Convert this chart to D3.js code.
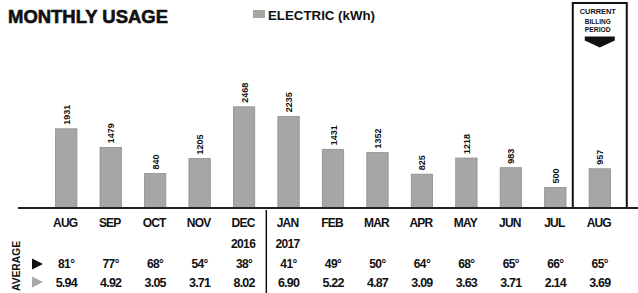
<!DOCTYPE html>
<html>
<head>
<meta charset="utf-8">
<script src="https://cdn.jsdelivr.net/npm/d3@7"></script>
<style>
  html, body { margin: 0; padding: 0; background: #fff; }
  svg { display: block; }
  text { font-family: "Liberation Sans", Arial, sans-serif; font-weight: bold; fill: #111; }
</style>
</head>
<body>
<script>
const months = ["AUG","SEP","OCT","NOV","DEC","JAN","FEB","MAR","APR","MAY","JUN","JUL","AUG"];
const years = ["","","","","2016","2017","","","","","","",""];
const electricKwh = [1931,1479,840,1205,2468,2235,1431,1352,825,1218,983,500,957];
const avgTemp = [81,77,68,54,38,41,49,50,64,68,65,66,65];
const avgDaily = ["5.94","4.92","3.05","3.71","8.02","6.90","5.22","4.87","3.09","3.63","3.71","2.14","3.69"];
const currentIndex = 12;
const yearBreakIndex = 5;

const W = 638, H = 293;
const baseY = 208;
const svg = d3.select("body").append("svg").attr("width", W).attr("height", H);

const idx = months.map((m, i) => i);
const x = d3.scaleBand().domain(idx).range([44, 622]).paddingInner(0.52).paddingOuter(0.26);
const y = d3.scaleLinear().domain([0, 2500]).range([baseY, 105.5]);
const cx = i => x(i) + x.bandwidth() / 2;

// title
svg.append("text").attr("x", 8).attr("y", 23)
  .attr("font-size", 18).attr("textLength", 160).attr("lengthAdjust", "spacingAndGlyphs")
  .style("font-weight", "900").style("stroke", "#111").style("stroke-width", 0.6)
  .text("MONTHLY USAGE");

// legend
svg.append("rect").attr("x", 253).attr("y", 10).attr("width", 12).attr("height", 8)
  .attr("fill", "#a6a6a6");
svg.append("text").attr("x", 268).attr("y", 19.5).attr("font-size", 12)
  .attr("textLength", 107).attr("lengthAdjust", "spacingAndGlyphs").text("ELECTRIC (kWh)");

// current billing period box
const bx0 = cx(currentIndex) - 27, bx1 = cx(currentIndex) + 27;
svg.append("rect").attr("x", bx0).attr("y", 3).attr("width", bx1 - bx0).attr("height", baseY - 3)
  .attr("fill", "none").attr("stroke", "#111").attr("stroke-width", 2);
const bc = cx(currentIndex);
[["CURRENT", 13.5, 36], ["BILLING", 23.5, 26], ["PERIOD", 31.5, 26]].forEach(([t, yy, w]) => {
  svg.append("text").attr("x", bc - 2).attr("y", yy).attr("text-anchor", "middle")
    .attr("font-size", 8).attr("textLength", w).attr("lengthAdjust", "spacingAndGlyphs").text(t);
});
svg.append("path")
  .attr("d", `M${bc-15},36.5 L${bc+15},36.5 L${bc+15},40.5 L${bc},47.5 L${bc-15},40.5 Z`)
  .attr("fill", "#111");

// bars
svg.selectAll("rect.bar").data(electricKwh).enter().append("rect")
  .attr("class", "bar")
  .attr("x", (d, i) => x(i)).attr("width", x.bandwidth())
  .attr("y", d => y(d)).attr("height", d => baseY - y(d))
  .attr("fill", "#a6a6a6").attr("stroke", "#8e8e8e").attr("stroke-width", 0.8);

// value labels (rotated)
svg.selectAll("text.val").data(electricKwh).enter().append("text")
  .attr("class", "val")
  .attr("transform", (d, i) => `translate(${cx(i) + 3.5},${y(d) - 4}) rotate(-90)`)
  .attr("font-size", 9).attr("text-anchor", "start")
  .text(d => d);

// axis baseline
svg.append("line").attr("x1", 18).attr("x2", 638).attr("y1", baseY).attr("y2", baseY)
  .attr("stroke", "#222").attr("stroke-width", 2);

// year separator
const sepX = (cx(yearBreakIndex - 1) + cx(yearBreakIndex)) / 2;
svg.append("line").attr("x1", sepX).attr("x2", sepX).attr("y1", 210).attr("y2", 293)
  .attr("stroke", "#111").attr("stroke-width", 1.5);

// month labels
svg.selectAll("text.mon").data(months).enter().append("text")
  .attr("x", (d, i) => cx(i) - 1).attr("y", 227).attr("text-anchor", "middle")
  .attr("font-size", 12).style("letter-spacing", "-0.8px").text(d => d);

// year labels
svg.selectAll("text.yr").data(years).enter().append("text")
  .attr("x", (d, i) => cx(i) - 1).attr("y", 248).attr("text-anchor", "middle")
  .attr("font-size", 12).style("letter-spacing", "-0.6px").text(d => d);

// temperatures
svg.selectAll("text.tmp").data(avgTemp).enter().append("text")
  .attr("x", (d, i) => cx(i)).attr("y", 268).attr("text-anchor", "middle")
  .attr("font-size", 12).style("letter-spacing", "-0.6px").text(d => d + "°");

// daily averages
svg.selectAll("text.day").data(avgDaily).enter().append("text")
  .attr("x", (d, i) => cx(i)).attr("y", 286.5).attr("text-anchor", "middle")
  .attr("font-size", 12.5).style("letter-spacing", "-0.8px").text(d => d);

// AVERAGE rotated label
svg.append("text").attr("transform", "translate(20,266) rotate(-90)")
  .attr("text-anchor", "middle").attr("font-size", 11)
  .attr("textLength", 50).attr("lengthAdjust", "spacingAndGlyphs").text("AVERAGE");

// triangles
svg.append("path").attr("d", "M32,258.5 L43,264 L32,269.5 Z").attr("fill", "#111");
svg.append("path").attr("d", "M32,276.5 L43,282 L32,287.5 Z").attr("fill", "#a8a8a8");
</script>
</body>
</html>
